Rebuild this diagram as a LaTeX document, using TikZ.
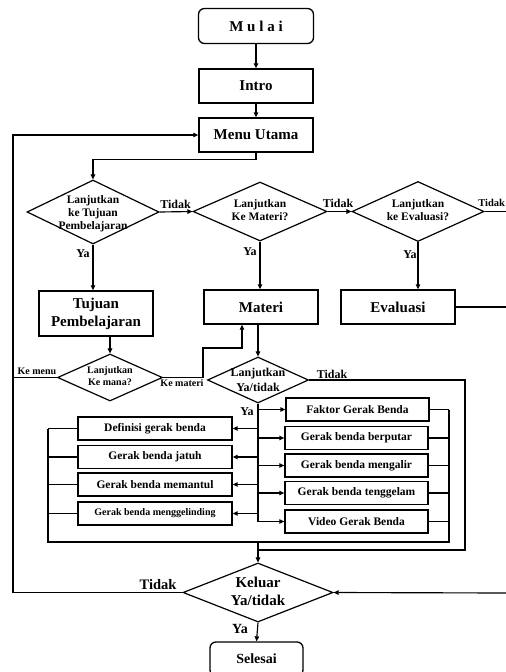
\documentclass[tikz,border=0pt]{standalone}
\usepackage{fontspec}
\setmainfont{Liberation Serif}
\usetikzlibrary{shapes.geometric,arrows.meta}
\begin{document}
\begin{tikzpicture}[x=1pt,y=-1pt,
 line width=1.15pt,
 box/.style={draw,rectangle,line width=1.3pt,inner sep=0pt,align=center,font=\bfseries\fontsize{15}{18}\selectfont},
 rbox/.style={box,rounded corners=6pt},
 sbox/.style={draw,rectangle,line width=1.3pt,inner sep=0pt,minimum width=143pt,minimum height=23pt,font=\bfseries\fontsize{11.5}{13}\selectfont},
 lbox/.style={sbox,minimum width=154pt},
 dec/.style={draw,diamond,line width=1.2pt,inner sep=0pt},
 dtxt/.style={align=center,inner sep=0pt,font=\bfseries\fontsize{11.5}{13}\selectfont},
 lab/.style={inner sep=0pt,font=\bfseries\fontsize{12}{14}\selectfont},
 arr/.style={-{Triangle[length=5pt,width=4.5pt]}},
]
\useasboundingbox (0,0) rectangle (506,672);
\fill[white] (0,0) rectangle (506,672);

% main column
\node[rbox,minimum width=115pt,minimum height=35pt] (mulai) at (256,26) {M u l a i};
\node[box,minimum width=114pt,minimum height=34pt] (intro) at (256,86) {Intro};
\node[box,minimum width=114pt,minimum height=34pt] (menu) at (256,135) {Menu Utama};

% decisions row
\node[dec,minimum width=132pt,minimum height=64pt] (d1) at (93,212) {};
\node[dtxt] (t1) at (93,214) {Lanjutkan\\ke Tujuan\\Pembelajaran};
\node[dec,minimum width=134pt,minimum height=59pt] (d2) at (260,211.5) {};
\node[dtxt] (t2) at (260,210) {Lanjutkan\\Ke Materi?};
\node[dec,minimum width=132pt,minimum height=60pt] (d3) at (418,211.5) {};
\node[dtxt] (t3) at (418,210) {Lanjutkan\\ke Evaluasi?};

% boxes row
\node[box,minimum width=114pt,minimum height=45pt] (tujuan) at (96,313.5) {Tujuan\\Pembelajaran};
\node[box,minimum width=114pt,minimum height=34pt] (materi) at (261,307) {Materi};
\node[box,minimum width=114pt,minimum height=34pt] (eval) at (398,307) {Evaluasi};

% second decisions
\node[dec,minimum width=105pt,minimum height=47pt] (d4) at (110,377.5) {};
\node[dtxt,font=\bfseries\fontsize{10}{12}\selectfont] (t4) at (110,376) {Lanjutkan\\Ke mana?};
\node[dec,minimum width=101pt,minimum height=46pt] (d5) at (258,380) {};
\node[dtxt,font=\bfseries\fontsize{12}{15}\selectfont] (t5) at (258,380) {Lanjutkan\\Ya/tidak};

% right sub-boxes
\node[sbox] (r1) at (357.5,409.5) {Faktor Gerak Benda};
\node[sbox] (r2) at (356.5,438) {Gerak benda berputar};
\node[sbox] (r3) at (356.5,465.5) {Gerak benda mengalir};
\node[sbox] (r4) at (356.5,493) {Gerak benda tenggelam};
\node[sbox] (r5) at (356.5,521.5) {Video Gerak Benda};

% left sub-boxes
\node[lbox] (l1) at (155,428.5) {Definisi gerak benda};
\node[lbox] (l2) at (155,457) {Gerak benda jatuh};
\node[lbox] (l3) at (155,484.5) {Gerak benda memantul};
\node[lbox,font=\bfseries\fontsize{10}{12}\selectfont] (l4) at (155,513.5) {Gerak benda menggelinding};

% exit
\node[dec,minimum width=150pt,minimum height=59pt] (kel) at (258,592.5) {};
\node[dtxt,font=\bfseries\fontsize{15}{18}\selectfont] (t6) at (258,591) {Keluar\\Ya/tidak};
\node[rbox,minimum width=93pt,minimum height=34pt,font=\bfseries\fontsize{14}{16}\selectfont] (selesai) at (256.5,659) {Selesai};

% coordinates
\coordinate (loopB) at (13,592.5);
\coordinate (menuL) at (13,377.5);
\coordinate (eR1) at (506,211.5);
\coordinate (eR2) at (506,307);
\coordinate (eR3) at (506,593);
\coordinate (km1) at (203,377.5);
\coordinate (km2) at (203,348);
\coordinate (v) at (258,521.5);
\coordinate (tA) at (465,380);
\coordinate (tB) at (465,550);
\coordinate (tC) at (258,550);
\coordinate (rcT) at (449,409.5);
\coordinate (rcB) at (449,542);
\coordinate (lcT) at (48,428.5);
\coordinate (lcB) at (48,542);
\coordinate (jn) at (258,542);

% connectors
\draw[arr] (mulai) -- (intro);
\draw[arr] (intro) -- (menu);
\draw[arr] (menu.south) -- ++(0,7) -| (d1.north);
\draw[arr] (kel.west) -- (loopB) |- (menu.west);
\draw[arr] (d1.east) -- (d2.west);
\draw[arr] (d2.east) -- (d3.west);
\draw (d3.east) -- (eR1);
\draw[arr] (d1.south) -- (d1.south |- tujuan.north);
\draw[arr] (d2.south) -- (d2.south |- materi.north);
\draw[arr] (d3.south) -- (d3.south |- eval.north);
\draw (eval.east) -- (eR2);
\draw[arr] (d4.north |- tujuan.south) -- (d4.north);
\draw (d4.west) -- (menuL);
\draw[arr] (d4.east) -- (km1) -- (km2) -| ([xshift=-19pt]materi.south);
\draw[arr] (d5.north |- materi.south) -- (d5.north);
\draw (d5.east) -- (tA) -- (tB) -- (tC);
\draw (d5.south) -- (v);
\foreach \r in {r1,r2,r3,r4,r5} {
  \draw[arr] (d5.south |- \r) -- (\r.west);
  \draw (\r.east) -- (rcT |- \r);
}
\foreach \l in {l1,l2,l3,l4} {
  \draw[arr] (d5.south |- \l) -- (\l.east);
  \draw (\l.west) -- (lcT |- \l);
}
\draw (rcT) -- (rcB) -- (lcB) -- (lcT);
\draw[arr] (jn) -- (kel.north);
\draw[arr] (eR3) -- (kel.east);
\draw[arr] (kel.south) -- (selesai.north);

% labels
\node[lab] (lb1) at (175.5,204) {Tidak};
\node[lab] (lb2) at (338,203) {Tidak};
\node[lab,anchor=east,font=\bfseries\fontsize{10.5}{12}\selectfont] (lb3) at (505.5,203) {Tidak};
\node[lab] (lb4) at (83,254) {Ya};
\node[lab] (lb5) at (250,252) {Ya};
\node[lab] (lb6) at (410,255) {Ya};
\node[lab,font=\bfseries\fontsize{10}{12}\selectfont] (lb7) at (37,371) {Ke menu};
\node[lab,font=\bfseries\fontsize{10}{12}\selectfont] (lb8) at (182,383) {Ke materi};
\node[lab] (lb9) at (332,374) {Tidak};
\node[lab] (lb10) at (247,412) {Ya};
\node[lab,font=\bfseries\fontsize{14.5}{16}\selectfont] (lb11) at (158,585) {Tidak};
\node[lab,font=\bfseries\fontsize{14}{16}\selectfont] (lb12) at (240,629) {Ya};
\end{tikzpicture}
\end{document}
